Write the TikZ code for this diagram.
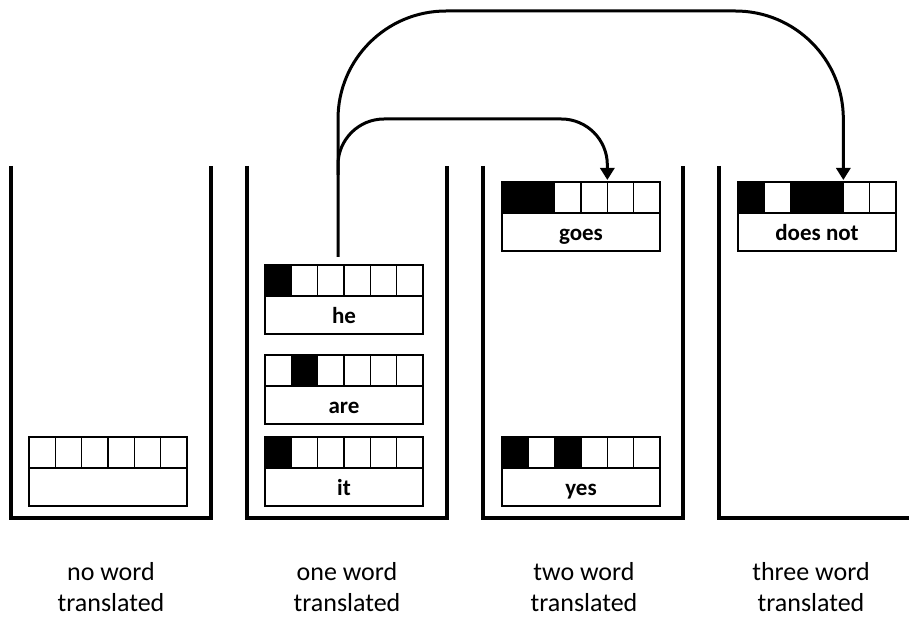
\documentclass[tikz,border=0pt]{standalone}
\usepackage{fontspec}
\setmainfont{Carlito}
\usetikzlibrary{arrows.meta}
\tikzset{
  wall/.style={line width=3.2pt},
  cell/.style={draw, line width=1.3pt, minimum width=26.333pt, minimum height=31pt, inner sep=0pt, outer sep=0pt, anchor=north west},
  lab/.style={draw, line width=1.3pt, minimum width=158pt, minimum height=38pt, inner sep=0pt, outer sep=0pt, anchor=north west, text height=16.5pt, text depth=0pt, font=\fontsize{23}{26}\selectfont\bfseries},
  conn/.style={line width=3pt, -{Triangle[length=12pt,width=14pt]}},
  captext/.style={align=center, inner sep=0pt, font=\fontsize{26}{31}\selectfont}
}
\newcommand\hypbox[5]{%
  \foreach \cc [count=\i from 0] in {#4} {
    \node[cell, fill=\cc] (#1-c\i) at ({#2+\i*26.333},#3) {};
  }
  \node[lab] (#1) at (#2,#3+31) {#5};
}
\begin{document}
\begin{tikzpicture}[x=1pt,y=-1pt]
\useasboundingbox (0,0) rectangle (909,617);
% stacks
\draw[wall] (11,166) -- (11,518) -- (211,518) -- (211,166);
\draw[wall] (247,166) -- (247,518) -- (447,518) -- (447,166);
\draw[wall] (483,166) -- (483,518) -- (683,518) -- (683,166);
\draw[wall] (719,166) -- (719,518) -- (909,518);
% hypotheses
\hypbox{empty}{29}{437}{white,white,white,white,white,white}{}
\hypbox{he}{265}{265}{black,white,white,white,white,white}{he}
\hypbox{are}{265}{355}{white,black,white,white,white,white}{are}
\hypbox{it}{265}{437}{black,white,white,white,white,white}{it}
\hypbox{goes}{502}{182}{black,black,white,white,white,white}{goes}
\hypbox{yes}{502}{437}{black,white,black,white,white,white}{yes}
\hypbox{doesnot}{738}{182}{black,white,black,black,white,white}{does not}
% connectors
\coordinate (start) at ([xshift=-6pt,yshift=8pt]he-c2.north east);
\coordinate (outerTop) at (500,11);
\coordinate (innerTop) at (500,119);
\coordinate (t1) at ([yshift=2pt]goes-c3.north east);
\coordinate (t2) at ([yshift=2pt]doesnot-c3.north east);
\draw[conn, rounded corners=108pt] (start) -- (start |- outerTop) -- (t2 |- outerTop) -- (t2);
\draw[conn, rounded corners=46pt] (start |- 0,175) -- (start |- innerTop) -- (t1 |- innerTop) -- (t1);
% captions
\node[captext] (cap1) at (111,587) {no word\\translated};
\node[captext] (cap2) at (347,587) {one word\\translated};
\node[captext] (cap3) at (584,587) {two word\\translated};
\node[captext] (cap4) at (811,587) {three word\\translated};
\end{tikzpicture}
\end{document}
